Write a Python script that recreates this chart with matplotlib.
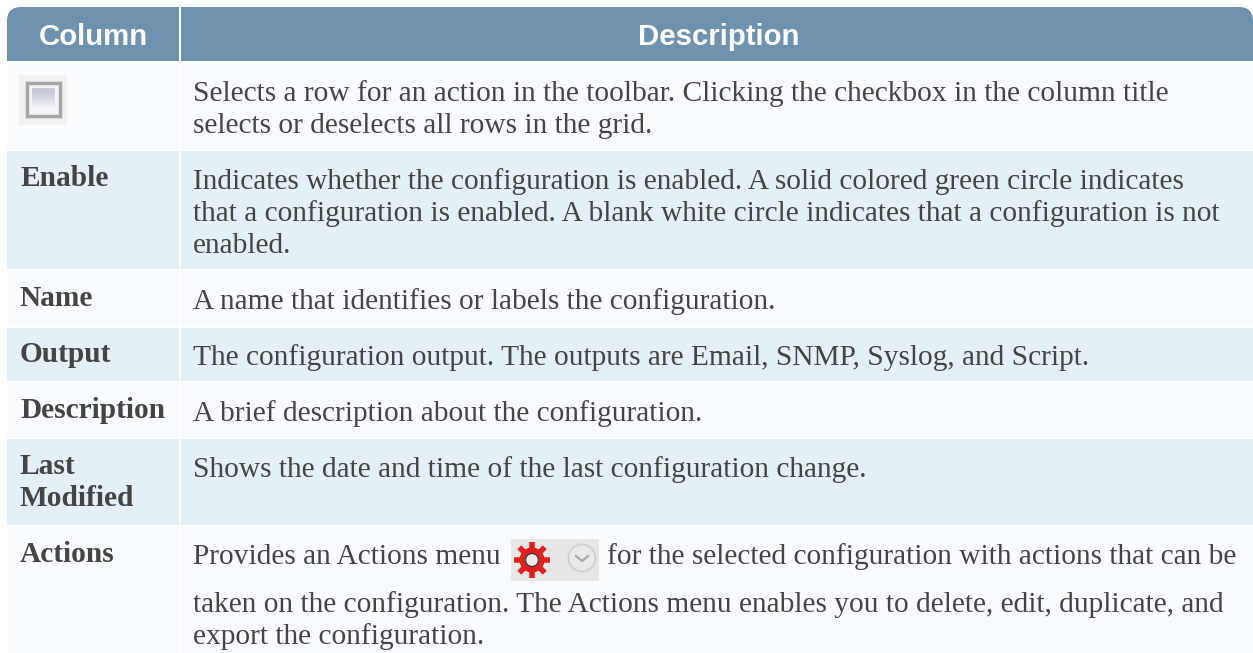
import matplotlib
matplotlib.use("Agg")
import matplotlib.pyplot as plt
from matplotlib.colors import LinearSegmentedColormap
from matplotlib.patches import Rectangle, FancyBboxPatch, Circle
import numpy as np

# table content
headers = ["Column", "Description"]
col_names = ["", "Enable", "Name", "Output", "Description", "Last\nModified", "Actions"]
col_text = [
    ["Selects a row for an action in the toolbar. Clicking the checkbox in the column title",
     "selects or deselects all rows in the grid."],
    ["Indicates whether the configuration is enabled. A solid colored green circle indicates",
     "that a configuration is enabled. A blank white circle indicates that a configuration is not",
     "enabled."],
    ["A name that identifies or labels the configuration."],
    ["The configuration output. The outputs are Email, SNMP, Syslog, and Script."],
    ["A brief description about the configuration."],
    ["Shows the date and time of the last configuration change."],
    ["Provides an Actions menu",
     "taken on the configuration. The Actions menu enables you to delete, edit, duplicate, and",
     "export the configuration."],
]
actions_rest = "for the selected configuration with actions that can be"
row_tops = [61, 151, 271, 328, 383, 439, 527]
row_bottoms = [149, 269, 326, 381, 437, 525, 653]
row_colors = ["#f9fcff", "#e4eff6"]
text_color = "#444444"
fs = 21.2

fig = plt.figure(figsize=(12.53, 6.53), dpi=100)
ax = fig.add_axes([0, 0, 1, 1])

# header with rounded top corners
ax.add_patch(FancyBboxPatch((7, 7), 1246, 80, boxstyle="round,pad=0,rounding_size=14",
                            fc="#6c92af", ec="none"))
ax.add_patch(Rectangle((0, 61), 1253, 40, fc="white", ec="none", zorder=1))
ax.add_patch(Rectangle((179, 7), 2, 54, fc="white", ec="none", zorder=1))
ax.text(93, 45, headers[0], color="white", fontsize=fs, fontweight="bold",
        family="Liberation Sans", ha="center", va="baseline", zorder=3)
ax.text(719, 45, headers[1], color="white", fontsize=fs, fontweight="bold",
        family="Liberation Sans", ha="center", va="baseline", zorder=3)

# baselines, pixels from the top
name_y = [0, 186, 306, 362, 418, 474, 562]
line_y = [[101, 133], [189, 221, 253], [309], [365], [421], [477], [564, 612, 644]]
for i in range(len(col_names)):
    c = row_colors[i % 2]
    h = row_bottoms[i] - row_tops[i]
    ax.add_patch(Rectangle((7, row_tops[i]), 172, h, fc=c, ec="none", zorder=2))
    ax.add_patch(Rectangle((181, row_tops[i]), 1072, h, fc=c, ec="none", zorder=2))
    if col_names[i]:
        parts = col_names[i].split("\n")
        for j, part in enumerate(parts):
            ax.text(20, name_y[i] + j * 32, part, color=text_color, fontsize=fs, fontweight="bold",
                    family="Liberation Serif", va="baseline", zorder=3)
    for j, line in enumerate(col_text[i]):
        ax.text(193, line_y[i][j], line, color=text_color, fontsize=fs,
                family="Liberation Serif", va="baseline", zorder=3)
ax.text(607, line_y[6][0], actions_rest, color=text_color, fontsize=fs,
        family="Liberation Serif", va="baseline", zorder=3)

# checkbox icon
box_cmap = LinearSegmentedColormap.from_list("box", ["#c6cbd6", "#f4f5f7"])
ax.add_patch(Rectangle((19, 75), 48, 50, fc="#f1f1f2", ec="none", zorder=3))
ax.add_patch(Rectangle((27, 83), 33, 33, fc="#f4f5f7", ec="#a4a6a8", lw=2.5, zorder=4))
ax.imshow([[0], [0.4], [1]], extent=(32, 55, 111, 88), cmap=box_cmap,
          vmin=0, vmax=1, aspect="auto", zorder=5, interpolation="bilinear")

# actions icon
ax.add_patch(Rectangle((511, 539), 88, 42, fc="#e6e6e6", ec="none", zorder=3))
for a in np.arange(8) * np.pi / 4:
    ax.plot([532, 532 + 18 * np.cos(a)], [560, 560 + 18 * np.sin(a)], color="#e0201c",
            lw=4, solid_capstyle="butt", zorder=4)
ax.add_patch(Circle((532, 560), 12.5, fc="#e0201c", ec="none", zorder=5))
ax.add_patch(Circle((532, 560), 6.5, fc="#ececec", ec="#4a3a3a", lw=1, zorder=6))
ax.add_patch(Circle((582, 558), 13.5, fc="#e9e9e9", ec="#d2d2d2", lw=1.5, zorder=4))
ax.plot([576, 582, 588], [556, 561, 556], color="#a8a8a8", lw=1.6, zorder=5)

ax.set_xlim(0, 1253)
ax.set_ylim(653, 0)
ax.axis("off")

fig.savefig("out.png", dpi=100)
